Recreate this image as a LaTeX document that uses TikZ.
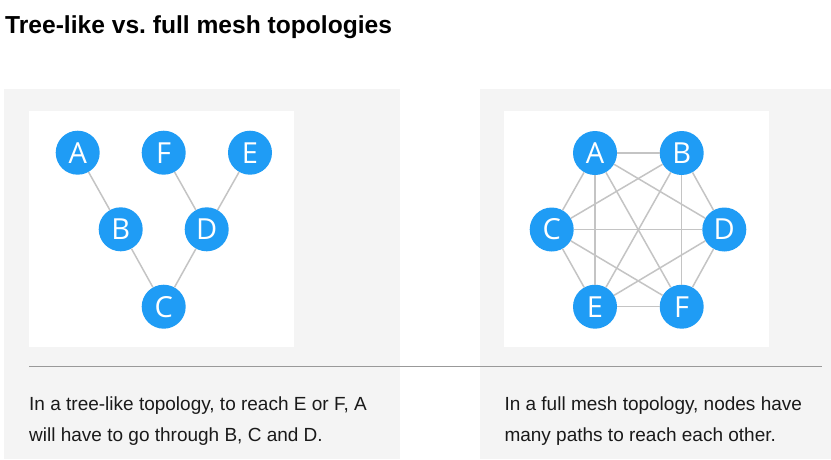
\documentclass[tikz,border=0pt]{standalone}
\usepackage{fontspec}
\setmainfont{Liberation Sans}
\newfontfamily\nodefont{Open Sans}
\frenchspacing
\definecolor{panelgray}{HTML}{F4F4F4}
\definecolor{nodeblue}{HTML}{1F9CF5}
\definecolor{edgegray}{HTML}{C4C4C4}
\definecolor{rulegray}{HTML}{999999}
\definecolor{txt}{HTML}{1A1A1A}
\tikzset{
  vert/.style={circle,fill=nodeblue,minimum size=44pt,inner sep=0pt,text=white,font=\nodefont\fontsize{29}{29}\selectfont},
  edge/.style={draw=edgegray,line width=1.5pt},
  body/.style={anchor=base west,inner sep=0pt,text=txt,font=\fontsize{19}{22}\selectfont},
}
\begin{document}
\begin{tikzpicture}[x=1pt,y=-1pt]
\useasboundingbox (0,0) rectangle (831,459);
\fill[white] (0,0) rectangle (831,459);
% panels
\fill[panelgray] (4,89) rectangle (400,459);
\fill[panelgray] (480,89) rectangle (831,459);
\fill[white] (29,111) rectangle (294,347);
\fill[white] (504,111) rectangle (769,347);
% title
\node[anchor=base west,inner sep=0pt,font=\bfseries\fontsize{24.6}{28}\selectfont] (title) at (5,33) {Tree-like vs.\ full mesh topologies};
% tree
\node[vert] (ta) at (77.7,152.7) {A};
\node[vert] (tf) at (163.7,152.7) {F};
\node[vert] (te) at (250,152.7) {E};
\node[vert] (tb) at (120.7,229.3) {B};
\node[vert] (td) at (206.7,229.3) {D};
\node[vert] (tc) at (163.7,306.7) {C};
% mesh
\node[vert] (ma) at (595,153) {A};
\node[vert] (mb) at (681.7,153) {B};
\node[vert] (mc) at (551.7,229.5) {C};
\node[vert] (md) at (724.3,229.5) {D};
\node[vert] (me) at (595,306.7) {E};
\node[vert] (mf) at (681.7,306.7) {F};
\foreach \u/\v in {ta/tb,tb/tc,tc/td,td/tf,td/te,
  ma/mb,ma/mc,ma/md,ma/me,ma/mf,mb/mc,mb/md,mb/me,mb/mf,mc/md,mc/me,mc/mf,md/me,md/mf,me/mf}
  \draw[edge] (\u) -- (\v);
% rule
\coordinate (rl) at (29,366.3);
\coordinate (rr) at (821.7,366.3);
\draw[rulegray,line width=1pt] (rl) -- (rr);
% captions
\node[body] (l1) at (29,410) {In a tree-like topology, to reach E or F, A};
\node[body] (l2) at (29,441) {will have to go through B, C and D.};
\node[body] (r1) at (504.3,410) {In a full mesh topology, nodes have};
\node[body] (r2) at (504.3,441) {many paths to reach each other.};
\end{tikzpicture}
\end{document}
